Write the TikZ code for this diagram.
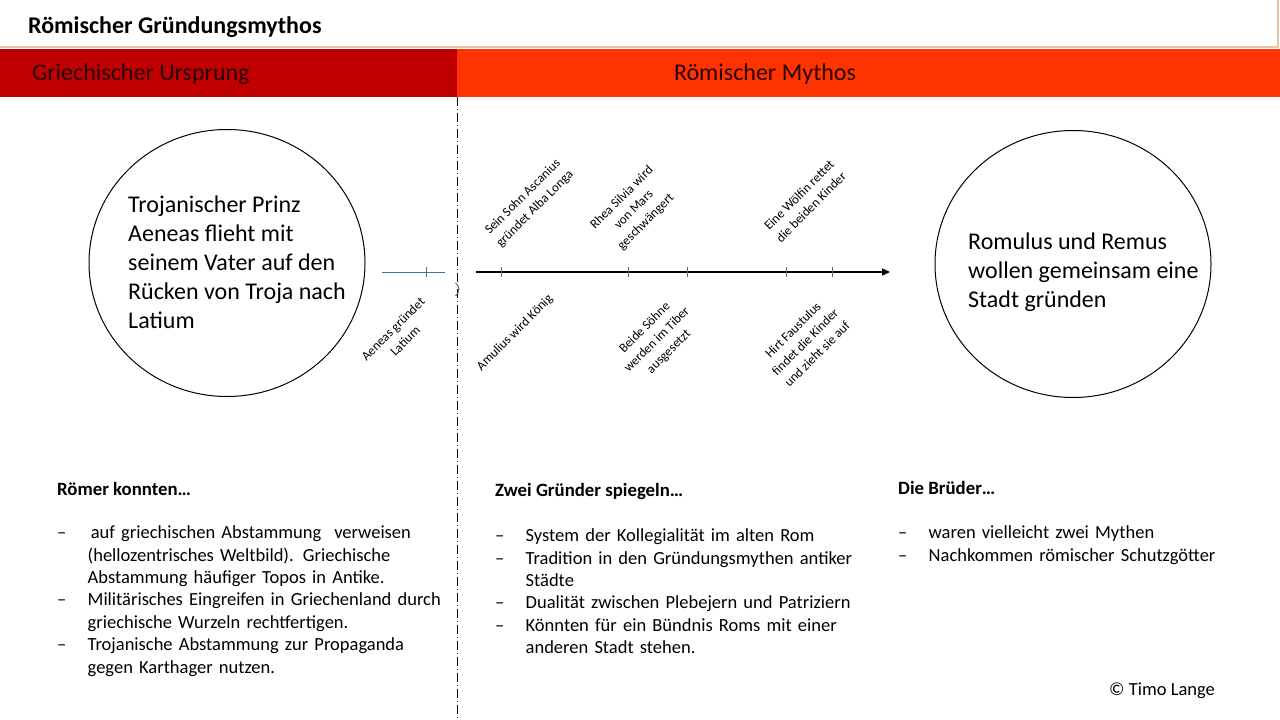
\documentclass[tikz,border=0pt]{standalone}
\usepackage{fontspec}
\setmainfont{Carlito}
\usepackage{tikz}
\usetikzlibrary{arrows.meta, shapes.geometric}
\definecolor{darkred}{HTML}{C00000}
\definecolor{romorange}{HTML}{FF3300}
\definecolor{tickblue}{HTML}{41719C}
\definecolor{tanline}{HTML}{E2C6A8}
\newcommand{\litem}[1]{\par\raggedright\hangindent=30.5pt\hangafter=1\noindent\makebox[30.5pt][l]{\textendash}#1\par}
\tikzset{
  titel/.style    ={font=\fontsize{24}{28}\selectfont\bfseries, inner sep=0pt},
  bandtxt/.style  ={font=\fontsize{24}{28}\selectfont, text=black!85!red, inner sep=0pt},
  kreis/.style    ={draw, ellipse, line width=1pt, minimum width=276, minimum height=267},
  kreistxt/.style ={font=\fontsize{24}{29}\selectfont, align=left, inner sep=0pt},
  strich/.style   ={tickblue, line width=1pt},
  ereignis/.style ={font=\fontsize{13}{17}\selectfont, align=center, rotate=45, inner sep=0pt},
  zeitpfeil/.style={-{Triangle[length=8pt, width=7pt]}, line width=1.3pt},
  kopf/.style     ={font=\fontsize{18.8}{22}\selectfont\bfseries, inner sep=0pt},
  liste/.style    ={font=\fontsize{18.5}{22.4}\selectfont, text width=420, align=left, inner sep=0pt},
}
\begin{document}
\begin{tikzpicture}[x=1pt, y=-1pt, line join=round]
  \useasboundingbox (0,0) rectangle (1280,720);

  % Kopfzeile
  \draw[tanline, line width=1.2pt] (0,47) -- (1278,47) -- (1278,0);
  \node[titel, anchor=west] (titel) at (28,27) {Römischer Gründungsmythos};
  \fill[darkred]   (0,49)   rectangle (457,97);
  \fill[romorange] (457,49) rectangle (1280,97);
  \node[bandtxt, anchor=west] (griech) at (32,74)  {Griechischer Ursprung};
  \node[bandtxt]              (roem)   at (765,74) {Römischer Mythos};

  % Trennlinie
  \coordinate (trennO) at (457,97);
  \coordinate (trennU) at (457,720);
  \draw[line width=0.9pt, dash pattern=on 9pt off 3pt on 1pt off 3pt] (trennO) -- (trennU);
  \draw[tickblue, line width=1pt] (455.5,296) arc[start angle=55, end angle=-55, radius=8];

  % Kreise
  \node[kreis] (kreisL) at (227,263) {};
  \node[kreistxt, anchor=west] (prinz) at (128,262)
    {Trojanischer Prinz\\Aeneas flieht mit\\seinem Vater auf den\\Rücken von Troja nach\\Latium};
  \node[kreis] (kreisR) at (1073,264) {};
  \node[kreistxt, anchor=west] (brueder) at (968,272)
    {Romulus und Remus\\wollen gemeinsam eine\\Stadt gründen};

  % Zeitstrahl links
  \coordinate (la) at (382,272);
  \coordinate (lb) at (445,272);
  \draw[strich] (la) -- (lb);
  \draw[strich] (426,267) -- (426,277);
  \node[ereignis] (aeneas) at (399,335) {Aeneas gründet\\Latium};

  % Zeitstrahl rechts
  \coordinate (ta) at (476,272);
  \coordinate (tb) at (890,272);
  \draw[zeitpfeil] (ta) -- (tb);
  \foreach \x in {501,628,687,786,832}
    \draw[strich] (\x,267) -- (\x,277);

  \node[ereignis] (ascanius) at (529,203) {Sein Sohn Ascanius\\gründet Alba Longa};
  \node[ereignis] (rhea)     at (634,210) {Rhea Silvia wird\\von Mars\\geschwängert};
  \node[ereignis] (woelfin)  at (805,201) {Eine Wölfin rettet\\die beiden Kinder};
  \node[ereignis] (amulius)  at (515,333) {Amulius wird König};
  \node[ereignis] (soehne)   at (657,340) {Beide Söhne\\werden im Tiber\\ausgesetzt};
  \node[ereignis] (hirt)     at (805,342) {Hirt Faustulus\\findet die Kinder\\und zieht sie auf};

  % Listen unten
  \node[kopf, anchor=west] (kopfL) at (57,489)  {Römer konnten…};
  \node[liste, anchor=north west] (listeL) at (57,516) {%
    \litem{\,auf griechischen Abstammung\hspace{0.7em}verweisen\newline(hellozentrisches Weltbild). Griechische\newline Abstammung häufiger Topos in Antike.}
    \litem{Militärisches Eingreifen in Griechenland durch\newline griechische Wurzeln rechtfertigen.}
    \litem{Trojanische Abstammung zur Propaganda\newline gegen Karthager nutzen.}};

  \node[kopf, anchor=west] (kopfM) at (495,491) {Zwei Gründer spiegeln…};
  \node[liste, anchor=north west] (listeM) at (495,519) {%
    \litem{System der Kollegialität im alten Rom}
    \litem{Tradition in den Gründungsmythen antiker\newline Städte}
    \litem{Dualität zwischen Plebejern und Patriziern}
    \litem{Könnten für ein Bündnis Roms mit einer\newline anderen Stadt stehen.}};

  \node[kopf, anchor=west] (kopfR) at (898,488) {Die Brüder…};
  \node[liste, anchor=north west] (listeR) at (898,516) {%
    \litem{waren vielleicht zwei Mythen}
    \litem{Nachkommen römischer Schutzgötter}};

  \node[font=\fontsize{18.5}{22}\selectfont, inner sep=0pt, anchor=west] (copy) at (1109,691) {© Timo Lange};
\end{tikzpicture}
\end{document}
